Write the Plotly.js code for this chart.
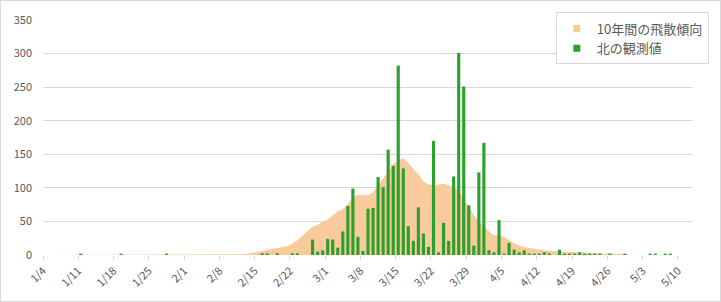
<!DOCTYPE html>
<html>
<head>
<meta charset="utf-8">
<script src="https://cdn.plot.ly/plotly-3.0.1.min.js"></script>
<style>
html,body{margin:0;padding:0;background:#fff;}
#wrap{position:relative;width:721px;height:302px;}
#chart{width:721px;height:302px;}
#frame{position:absolute;left:0;top:0;width:721px;height:302px;box-sizing:border-box;border:1px solid #d9d9d9;pointer-events:none;}
</style>
</head>
<body>
<div id="wrap"><div id="chart"></div><div id="frame"></div></div>
<script>
// ---- data ----
const firstDay = [2021, 0, 4];          // 1/4
const dayCount = 129;                   // 1/4 .. 5/12
const tickLabels = ['1/4','1/11','1/18','1/25','2/1','2/8','2/15','2/22','3/1','3/8','3/15','3/22','3/29','4/5','4/12','4/19','4/26','5/3','5/10'];
const seriesNames = ['10年間の飛散傾向', '北の観測値'];

// 10-year trend (one value per day, starting 1/4)
const trend10y = [
  0,0,0,0,0,0,0,
  0,0,0,0,0,0,0,
  0,0,0,0,0,0,0,
  0,0,0,0,0,0,0,
  0,0,0,0,0,0,0,
  0,0,0,0,1,2,3,
  4.5,6,8,9,10,11,13,
  17,22,29,36,42,45,49,
  53,59,65,68,76,86,90,
  89,89,93,105,114,124,135,
  141,144,137,129,120,110,105,
  104,105,106,104,101,96,83,
  72,60,49,43,35,29,29,
  27,22,17,14,11.5,10.5,9,
  7,6.6,6.5,6.3,6,5,4.5,
  4,4,3.5,3,2.7,2.5,2.2,
  2,2,2,1.5,0,0,0,
  0,0,0,0,0,0,0,
  0,0,0
];

// observed values, north (one value per day, starting 1/4)
const northObserved = [
  0,0,0,0,0,0,0,
  2,0,0,0,0,0,0,
  0,2,0,0,0,0,0,
  0,0,0,2,0,0,0,
  0,0,0,0,0,0,0,
  0,0,0,0,0,0,0,
  0,2.5,2.5,0,2.5,0,0,
  2.5,2.5,0,0,23,5,7,
  24,23,11,35,73,99,27,
  6,69,70,116,101,157,133,
  282,129,43,21,71,32,12,
  170,4,48,21,117,301,251,
  74,14,123,167,7,4,52,
  2,18,8,4,7,2,2,
  2,4,2,0,8,2,2,
  2,4,2,2,2,2,0,
  2,0,0,2,0,0,0,
  0,2,2,0,2,2,0,
  0,0,0
];

// ---- build ----
function dayString(i){
  const d = new Date(Date.UTC(firstDay[0], firstDay[1], firstDay[2] + i));
  return d.toISOString().slice(0,10);
}
const dates = [];
for (let i = 0; i < dayCount; i++) dates.push(dayString(i));
const tickVals = dates.filter((d, i) => i % 7 === 0).slice(0, tickLabels.length);

const ORANGE = '#f9cb9c';
const GREEN = '#2ca02c';
const DAY = 86400000;

const traces = [
  {
    type: 'scatter', mode: 'lines', x: dates, y: trend10y,
    xperiod: DAY, xperiodalignment: 'middle',
    fill: 'tozeroy', fillcolor: ORANGE, line: {width: 0, color: ORANGE},
    showlegend: false, hoverinfo: 'skip', zorder: 0
  },
  {
    type: 'bar', x: dates, y: northObserved,
    xperiod: DAY, xperiodalignment: 'middle',
    marker: {color: GREEN, line: {width: 0}},
    showlegend: false, zorder: 1
  },
  {
    type: 'scatter', mode: 'markers', x: [null], y: [null], name: seriesNames[0],
    marker: {symbol: 'square', size: 7, color: ORANGE}
  },
  {
    type: 'scatter', mode: 'markers', x: [null], y: [null], name: seriesNames[1],
    marker: {symbol: 'square', size: 7, color: GREEN}
  }
];

const FONT = '"Noto Sans CJK JP", "Noto Sans", sans-serif';
const layout = {
  width: 721, height: 302,
  margin: {l: 43, r: 25, t: 17, b: 47, pad: 0},
  paper_bgcolor: '#ffffff', plot_bgcolor: '#ffffff',
  font: {family: FONT, color: '#595959', size: 11},
  bargap: 0.38,
  showlegend: true,
  legend: {
    x: 1.0244, xanchor: 'right', y: 1.032, yanchor: 'top',
    bgcolor: '#ffffff', bordercolor: '#d9d9d9', borderwidth: 1,
    font: {family: FONT, size: 13, color: '#595959'},
    itemclick: false, itemdoubleclick: false
  },
  xaxis: {
    type: 'date',
    range: [dates[0], dayString(dayCount)],
    tickmode: 'array', tickvals: tickVals, ticktext: tickLabels,
    tickangle: -45,
    ticks: 'outside', ticklen: 4, tickcolor: '#d9d9d9', tickwidth: 1,
    showline: true, linecolor: '#d9d9d9', linewidth: 1,
    showgrid: false, zeroline: false,
    tickfont: {family: FONT, size: 11, color: '#595959'},
    fixedrange: true
  },
  yaxis: {
    range: [0, 350], dtick: 50, tick0: 0,
    showgrid: true, gridcolor: '#d9d9d9', gridwidth: 1,
    zeroline: false, showline: false, ticks: '',
    ticklabelstandoff: 10,
    tickfont: {family: FONT, size: 11, color: '#595959'},
    fixedrange: true
  }
};

Plotly.newPlot('chart', traces, layout, {displayModeBar: false, staticPlot: true});
</script>
</body>
</html>
